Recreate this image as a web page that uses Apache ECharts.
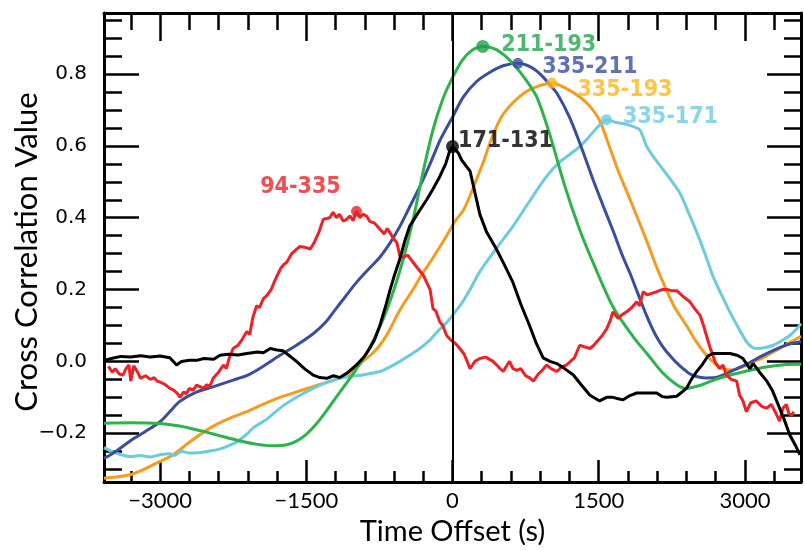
<!DOCTYPE html>
<html>
<head>
<meta charset="utf-8">
<script src="https://cdn.jsdelivr.net/npm/echarts@6/dist/echarts.min.js"></script>
<style>
  html, body { margin: 0; padding: 0; background: #fff; }
  #chart { width: 804px; height: 551px; }
</style>
</head>
<body>
<div id="chart"></div>
<script>
// axis ticks
const xMajorTicks = [-3000, -1500, 0, 1500, 3000];
const xMinorTicks = [-3300, -2700, -2400, -2100, -1800, -1200, -900, -600, -300, 300, 600, 900, 1200, 1800, 2100, 2400, 2700, 3300];
const yMajorTicks = [-0.2, 0, 0.2, 0.4, 0.6, 0.8];
const yMinorTicks = [-0.3, -0.25, -0.15, -0.1, -0.05, 0.05, 0.1, 0.15, 0.25, 0.3, 0.35, 0.45, 0.5, 0.55, 0.65, 0.7, 0.75, 0.85, 0.9, 0.95];

// curves: [time offset (s), cross correlation]
const c211_193 = [[-3575,-0.172],[-3300,-0.171],[-3000,-0.173],[-2800,-0.18],[-2600,-0.192],[-2400,-0.206],[-2200,-0.22],[-2000,-0.231],[-1850,-0.235],[-1700,-0.232],[-1600,-0.222],[-1500,-0.203],[-1400,-0.175],[-1300,-0.14],[-1200,-0.102],[-1100,-0.065],[-1000,-0.027],[-900,0.015],[-800,0.065],[-700,0.125],[-600,0.2],[-500,0.29],[-400,0.4],[-300,0.53],[-200,0.645],[-100,0.73],[0,0.79],[100,0.838],[200,0.866],[310,0.877],[450,0.868],[600,0.835],[750,0.785],[865,0.736],[1000,0.63],[1150,0.49],[1300,0.37],[1450,0.27],[1650,0.15],[1850,0.07],[2000,0.02],[2150,-0.03],[2300,-0.065],[2400,-0.075],[2550,-0.066],[2700,-0.05],[2850,-0.038],[3000,-0.028],[3200,-0.016],[3400,-0.009],[3575,-0.008]];
const c335_211 = [[-3575,-0.27],[-3450,-0.25],[-3300,-0.22],[-3150,-0.195],[-3000,-0.168],[-2900,-0.14],[-2800,-0.112],[-2650,-0.088],[-2450,-0.07],[-2250,-0.052],[-2100,-0.038],[-1950,-0.015],[-1770,0.017],[-1600,0.045],[-1430,0.077],[-1300,0.11],[-1200,0.145],[-1100,0.18],[-985,0.22],[-850,0.26],[-745,0.29],[-640,0.33],[-540,0.376],[-440,0.43],[-335,0.487],[-230,0.55],[-120,0.62],[0,0.68],[110,0.736],[250,0.78],[385,0.805],[520,0.823],[670,0.83],[800,0.82],[900,0.8],[1000,0.77],[1070,0.747],[1200,0.68],[1330,0.59],[1450,0.5],[1550,0.43],[1645,0.365],[1750,0.29],[1820,0.246],[1900,0.19],[1990,0.128],[2080,0.075],[2160,0.04],[2250,0.01],[2330,-0.012],[2420,-0.032],[2500,-0.042],[2600,-0.046],[2700,-0.045],[2800,-0.035],[2900,-0.022],[3015,-0.008],[3185,0.017],[3350,0.038],[3475,0.05],[3575,0.055]];
const c335_193 = [[-3575,-0.325],[-3450,-0.322],[-3300,-0.315],[-3200,-0.305],[-3050,-0.285],[-2865,-0.26],[-2700,-0.225],[-2485,-0.185],[-2300,-0.16],[-2110,-0.14],[-1950,-0.12],[-1770,-0.1],[-1600,-0.085],[-1430,-0.07],[-1250,-0.055],[-1085,-0.038],[-1000,-0.02],[-920,0.0],[-830,0.02],[-745,0.045],[-650,0.085],[-570,0.128],[-490,0.165],[-405,0.2],[-320,0.24],[-230,0.276],[-150,0.31],[-60,0.35],[25,0.39],[110,0.42],[200,0.475],[280,0.53],[310,0.55],[400,0.62],[500,0.68],[620,0.72],[750,0.75],[865,0.765],[1020,0.775],[1150,0.762],[1306,0.736],[1410,0.71],[1510,0.67],[1600,0.605],[1700,0.53],[1800,0.465],[1890,0.405],[2000,0.33],[2080,0.272],[2160,0.22],[2280,0.15],[2400,0.1],[2500,0.055],[2605,0.017],[2700,-0.008],[2775,-0.02],[2875,-0.024],[2950,-0.018],[3015,-0.01],[3100,0.0],[3200,0.012],[3355,0.036],[3475,0.055],[3575,0.07]];
const c335_171 = [[-3575,-0.24],[-3500,-0.25],[-3400,-0.26],[-3300,-0.265],[-3200,-0.262],[-3100,-0.266],[-3000,-0.26],[-2900,-0.257],[-2850,-0.262],[-2780,-0.25],[-2700,-0.255],[-2600,-0.254],[-2500,-0.25],[-2400,-0.245],[-2300,-0.235],[-2200,-0.222],[-2100,-0.2],[-2045,-0.185],[-1900,-0.16],[-1770,-0.13],[-1600,-0.1],[-1430,-0.075],[-1300,-0.06],[-1155,-0.047],[-1000,-0.04],[-920,-0.038],[-830,-0.033],[-745,-0.028],[-640,-0.015],[-540,0.0],[-440,0.017],[-335,0.036],[-230,0.06],[-130,0.09],[-60,0.108],[0,0.128],[90,0.16],[180,0.2],[280,0.25],[450,0.315],[620,0.376],[800,0.45],[965,0.515],[1100,0.555],[1270,0.59],[1375,0.617],[1480,0.65],[1580,0.673],[1680,0.665],[1785,0.66],[1920,0.645],[1990,0.6],[2060,0.57],[2200,0.52],[2330,0.47],[2420,0.415],[2505,0.36],[2590,0.3],[2670,0.238],[2760,0.185],[2845,0.138],[2930,0.095],[3015,0.055],[3070,0.04],[3115,0.036],[3200,0.038],[3290,0.045],[3380,0.058],[3460,0.072],[3530,0.09],[3575,0.105]];
const c171_131 = [[-3575,0.003],[-3500,0.008],[-3400,0.014],[-3300,0.012],[-3200,0.016],[-3100,0.012],[-3000,0.015],[-2900,0.01],[-2830,-0.01],[-2780,0.0],[-2700,0.003],[-2625,0.003],[-2550,0.008],[-2450,0.006],[-2385,0.017],[-2300,0.02],[-2200,0.018],[-2110,0.022],[-2000,0.026],[-1940,0.024],[-1870,0.036],[-1800,0.032],[-1740,0.03],[-1670,0.015],[-1600,0.0],[-1520,-0.02],[-1430,-0.038],[-1360,-0.045],[-1290,-0.047],[-1220,-0.04],[-1155,-0.045],[-1070,-0.03],[-985,-0.01],[-900,0.015],[-850,0.036],[-800,0.06],[-745,0.1],[-690,0.15],[-640,0.2],[-590,0.245],[-540,0.285],[-490,0.335],[-440,0.376],[-350,0.415],[-265,0.45],[-200,0.48],[-130,0.515],[-70,0.55],[-30,0.585],[0,0.598],[60,0.58],[95,0.56],[180,0.53],[230,0.47],[280,0.41],[350,0.36],[450,0.313],[530,0.27],[620,0.22],[700,0.16],[790,0.1],[860,0.05],[930,0.01],[1000,0.0],[1070,-0.006],[1150,-0.02],[1240,-0.038],[1320,-0.065],[1410,-0.094],[1510,-0.11],[1580,-0.1],[1645,-0.1],[1700,-0.104],[1750,-0.107],[1820,-0.095],[1890,-0.088],[1990,-0.088],[2095,-0.088],[2150,-0.098],[2200,-0.1],[2300,-0.097],[2400,-0.075],[2450,-0.05],[2505,-0.028],[2560,-0.01],[2620,0.015],[2670,0.022],[2750,0.022],[2845,0.022],[2920,0.017],[2980,0.008],[3050,-0.02],[3085,-0.006],[3150,-0.03],[3225,-0.055],[3280,-0.08],[3325,-0.11],[3400,-0.16],[3460,-0.205],[3520,-0.235],[3565,-0.26]];
const c94_335 = [[-3530,-0.014],[-3490,-0.03],[-3460,-0.02],[-3420,-0.035],[-3380,-0.038],[-3350,-0.02],[-3320,-0.01],[-3300,-0.055],[-3270,-0.012],[-3230,-0.03],[-3200,-0.047],[-3150,-0.04],[-3100,-0.05],[-3060,-0.045],[-3030,-0.055],[-2980,-0.06],[-2940,-0.066],[-2900,-0.075],[-2860,-0.08],[-2820,-0.09],[-2795,-0.1],[-2760,-0.085],[-2730,-0.09],[-2700,-0.075],[-2660,-0.08],[-2625,-0.066],[-2590,-0.07],[-2560,-0.075],[-2520,-0.065],[-2490,-0.07],[-2455,-0.047],[-2400,-0.03],[-2350,-0.01],[-2320,-0.02],[-2290,0.01],[-2250,0.036],[-2200,0.045],[-2160,0.06],[-2110,0.083],[-2080,0.075],[-2050,0.12],[-2010,0.155],[-1980,0.15],[-1940,0.175],[-1905,0.183],[-1860,0.2],[-1830,0.22],[-1800,0.238],[-1760,0.26],[-1730,0.27],[-1700,0.276],[-1650,0.3],[-1610,0.31],[-1565,0.32],[-1520,0.318],[-1460,0.313],[-1420,0.33],[-1370,0.36],[-1325,0.396],[-1290,0.398],[-1260,0.4],[-1225,0.415],[-1190,0.4],[-1160,0.41],[-1120,0.39],[-1085,0.396],[-1050,0.405],[-1020,0.392],[-985,0.418],[-950,0.4],[-920,0.41],[-880,0.404],[-850,0.39],[-800,0.385],[-745,0.368],[-700,0.355],[-670,0.37],[-645,0.36],[-600,0.34],[-570,0.33],[-540,0.293],[-500,0.29],[-460,0.296],[-405,0.276],[-360,0.26],[-300,0.24],[-265,0.22],[-230,0.2],[-200,0.147],[-170,0.14],[-130,0.11],[-100,0.1],[-60,0.072],[-20,0.06],[30,0.05],[75,0.036],[120,0.02],[180,-0.02],[230,0.0],[280,0.008],[340,0.012],[415,0.0],[470,-0.015],[520,-0.028],[560,-0.01],[585,0.0],[620,-0.02],[660,-0.025],[700,-0.02],[750,-0.04],[790,-0.045],[830,-0.055],[880,-0.035],[920,-0.025],[965,-0.01],[1010,-0.02],[1070,-0.028],[1120,-0.015],[1170,-0.01],[1210,0.0],[1250,0.01],[1306,0.045],[1360,0.04],[1410,0.036],[1450,0.045],[1480,0.055],[1530,0.07],[1580,0.09],[1620,0.115],[1645,0.138],[1700,0.12],[1740,0.13],[1785,0.138],[1840,0.15],[1890,0.166],[1920,0.155],[1955,0.194],[2000,0.185],[2050,0.19],[2095,0.194],[2150,0.2],[2200,0.2],[2250,0.197],[2300,0.197],[2370,0.18],[2435,0.166],[2490,0.145],[2540,0.128],[2575,0.1],[2605,0.072],[2640,0.04],[2670,0.017],[2700,-0.005],[2740,-0.02],[2775,-0.01],[2810,-0.038],[2860,-0.05],[2915,-0.055],[2945,-0.094],[2980,-0.11],[3015,-0.14],[3060,-0.115],[3115,-0.11],[3170,-0.125],[3225,-0.13],[3270,-0.12],[3310,-0.14],[3355,-0.166],[3390,-0.13],[3425,-0.12],[3450,-0.145],[3480,-0.15],[3500,-0.14]];

// peak markers
const peakNames = ['211-193', '335-211', '335-193', '335-171', '171-131', '94-335'];
const peakX = [310, 670, 1020, 1580, 0, -985];
const peakY = [0.877, 0.83, 0.775, 0.673, 0.598, 0.418];

const X_MIN = -3575, X_MAX = 3575, Y_MIN = -0.336, Y_MAX = 0.97;

const peakColors = ['#1f9e48', '#3a4ea0', '#fbb817', '#6dcbe0', '#000000', '#ec2227'];
const labelColors = ['#1fa84a', '#3a4ea0', '#fbb817', '#6dcbe0', '#000000', '#ec2227'];
const labelOffsets = [[66, -1], [72, 4], [73, 7], [64, -3], [53, -6], [-56, -24]];
const dotSizes = [13, 11, 11, 11, 13, 11];

function fmtX(v) { return v < 0 ? '\u2212' + Math.abs(v) : String(v); }
function fmtY(v) { return (v < -1e-9 ? '\u2212' : '') + Math.abs(v).toFixed(1); }

function xAx(pos, ticks, len, main) {
    return {
        type: 'value', position: pos, min: X_MIN, max: X_MAX,
        axisLine: { show: main, onZero: false, lineStyle: { color: '#000', width: 3 } },
        axisTick: { show: true, inside: true, length: len, customValues: ticks, lineStyle: { color: '#000', width: 2.5 } },
        axisLabel: (main && pos === 'bottom') ? {
            show: true, customValues: xMajorTicks, formatter: fmtX, margin: 8,
            color: '#000', fontSize: 22, fontFamily: 'Lato'
        } : { show: false },
        splitLine: { show: false }
    };
}
function yAx(pos, ticks, len, main) {
    return {
        type: 'value', position: pos, min: Y_MIN, max: Y_MAX,
        axisLine: { show: main, onZero: false, lineStyle: { color: '#000', width: 3 } },
        axisTick: { show: true, inside: true, length: len, customValues: ticks, lineStyle: { color: '#000', width: 2.5 } },
        axisLabel: (main && pos === 'left') ? {
            show: true, customValues: yMajorTicks, formatter: fmtY, margin: 17,
            color: '#000', fontSize: 20, fontFamily: 'DejaVu Sans'
        } : { show: false },
        splitLine: { show: false }
    };
}

function lineSeries(name, data, color, width, smooth) {
    return {
        name: name, type: 'line', data: data, xAxisIndex: 0, yAxisIndex: 0,
        showSymbol: false, symbol: 'none', smooth: smooth, animation: false,
        lineStyle: { color: color, width: width }
    };
}

const peakData = peakNames.map((n, i) => ({
    value: [peakX[i], peakY[i]],
    symbolSize: dotSizes[i],
    itemStyle: { color: peakColors[i] },
    label: {
        show: true, formatter: n, position: 'inside', offset: labelOffsets[i],
        color: labelColors[i], fontSize: 23, fontWeight: 'bold',
        fontFamily: "'DejaVu Sans Condensed', 'Liberation Sans Narrow', sans-serif"
    }
}));

const chart = echarts.init(document.getElementById('chart'), null, { renderer: 'canvas' });
chart.setOption({
    backgroundColor: '#fff',
    animation: false,
    grid: { left: 104, right: 3, top: 13, bottom: 66.5, containLabel: false },
    xAxis: [
        Object.assign(xAx('bottom', xMajorTicks, 22, true), {
            name: 'Time Offset (s)', nameLocation: 'middle', nameGap: 30,
            nameTextStyle: { color: '#000', fontSize: 29, fontFamily: 'Lato' }
        }),
        xAx('bottom', xMinorTicks, 11, false),
        xAx('top', xMajorTicks, 28, true),
        xAx('top', xMinorTicks, 17, false)
    ],
    yAxis: [
        yAx('left', yMajorTicks, 35, true),
        yAx('left', yMinorTicks, 18, false),
        yAx('right', yMajorTicks, 34, true),
        yAx('right', yMinorTicks, 17, false)
    ],
    graphic: [{
        type: 'text', x: 27, y: 252, rotation: Math.PI / 2,
        style: {
            text: 'Cross Correlation Value', fill: '#000',
            fontSize: 31, fontFamily: 'Lato',
            align: 'center', verticalAlign: 'middle',
            textAlign: 'center', textVerticalAlign: 'middle'
        }
    }],
    series: [
        lineSeries('335-193', c335_193, '#f39c1f', 3, 0.3),
        lineSeries('335-171', c335_171, '#6ccbdc', 3, 0.2),
        lineSeries('335-211', c335_211, '#3a4ea0', 3, 0.3),
        lineSeries('211-193', c211_193, '#2db34a', 3, 0.3),
        lineSeries('94-335', c94_335, '#ec2227', 3, false),
        Object.assign(lineSeries('171-131', c171_131, '#000000', 3, false), {
            markLine: {
                silent: true, symbol: 'none', animation: false,
                label: { show: false },
                lineStyle: { color: '#000', width: 2, type: 'solid' },
                data: [{ xAxis: 0 }]
            }
        }),
        {
            name: 'peaks', type: 'scatter', data: peakData, symbol: 'circle',
            xAxisIndex: 0, yAxisIndex: 0, z: 5, animation: false
        }
    ]
});
</script>
</body>
</html>
